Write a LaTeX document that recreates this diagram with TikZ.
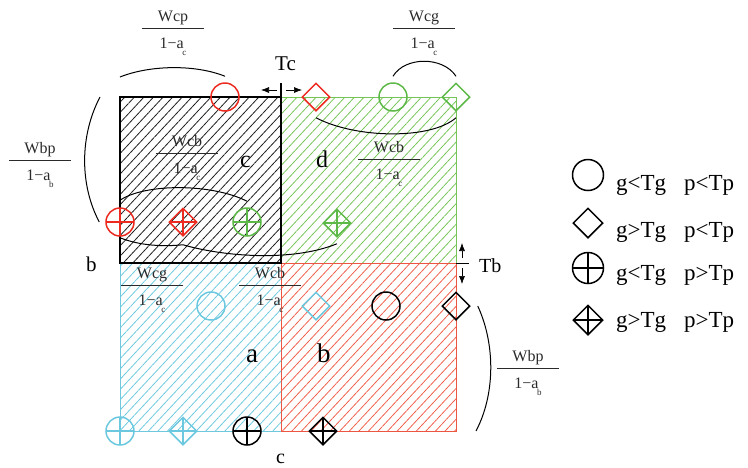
\documentclass[tikz,border=0pt]{standalone}
\usepackage{fontspec}
\setmainfont{Liberation Serif}
\usetikzlibrary{positioning,calc,arrows.meta,shapes.geometric,patterns.meta}
\definecolor{hatchk}{HTML}{1E1E1E}
\definecolor{hatchg}{HTML}{78C65A}
\definecolor{edgeg}{HTML}{74C458}
\definecolor{hatchc}{HTML}{6ECADF}
\definecolor{edgec}{HTML}{70C8DE}
\definecolor{hatchr}{HTML}{F0604C}
\definecolor{edger}{HTML}{EE5644}
\definecolor{symr}{HTML}{EC2A20}
\definecolor{symg}{HTML}{5DB947}
\definecolor{symc}{HTML}{6CC8DF}
\definecolor{fracc}{HTML}{2A2A2A}
\newcommand{\fs}[1]{\fontsize{#1}{#1}\selectfont}
% fraction label: name, x, bar y, numerator, subscript
\newcommand{\wfrac}[5]{%
  \node[fracnum] (#1n) at (#2,#3-7) {#4};
  \draw[fracbar] (#2-31,#3) -- (#2+31,#3);
  \node[fracden] (#1d) at (#2,#3+20) {1−a\raisebox{-7pt}{\kern-1.5pt\fs{9}#5}};}
\tikzset{
  quad/.style 2 args={draw=#1, line width=0.9pt,
    pattern={Lines[angle=47,distance=7pt,line width=0.8pt]}, pattern color=#2},
  fracnum/.style={font=\fs{16}, text=fracc, inner sep=0pt, anchor=base},
  fracden/.style={font=\fs{16}, text=fracc, inner sep=0pt, anchor=base},
  fracbar/.style={draw=fracc, line width=0.8pt},
  sym/.style={draw=#1, line width=1.5pt, inner sep=0pt},
  ocirc/.style={sym=#1, circle, minimum size=28pt},
  odia/.style={sym=#1, diamond, minimum size=28pt},
  xmark/.style={path picture={\draw[#1, line width=1.5pt]
    (path picture bounding box.north) -- (path picture bounding box.south)
    (path picture bounding box.west) -- (path picture bounding box.east);}},
  xcirc/.style={ocirc=#1, xmark=#1},
  xdia/.style={odia=#1, xmark=#1},
  arc/.style={draw=black, line width=1pt},
  tick/.style={-{Latex[length=8pt,width=6pt]}, line width=0.6pt},
  qlabel/.style={font=\fs{#1}, inner sep=0pt, anchor=base west},
}
\begin{document}
\begin{tikzpicture}[x=1pt, y=-1pt]
  \useasboundingbox (0,0) rectangle (748,467);
  % quadrants
  \draw[quad={edgec}{hatchc}] (120,263) rectangle (281,431);
  \draw[quad={edgeg}{hatchg}] (281,97) rectangle (456,263);
  \draw[quad={edger}{hatchr}] (281,263) rectangle (456,431);
  \draw[quad={black}{hatchk}, line width=1.1pt] (120,97) rectangle (281,263);

  % Tc and Tb marks
  \coordinate (tctop) at (281,83);
  \coordinate (tcbot) at (281,97);
  \draw[line width=1.1pt] (tctop) -- (tcbot);
  \coordinate (tcl) at (277,90);
  \coordinate (tclt) at (261,90);
  \coordinate (tcr) at (286,90);
  \coordinate (tcrt) at (302,90);
  \draw[tick] (tcl) -- (tclt);
  \draw[tick] (tcr) -- (tcrt);
  \node[qlabel=21] (tc) at (275,70) {Tc};
  \coordinate (tbl) at (456,263);
  \coordinate (tbr) at (469,263);
  \draw[line width=0.8pt] (tbl) -- (tbr);
  \coordinate (tbu) at (462,258);
  \coordinate (tbut) at (462,243);
  \coordinate (tbd) at (462,268);
  \coordinate (tbdt) at (462,284);
  \draw[tick] (tbu) -- (tbut);
  \draw[tick] (tbd) -- (tbdt);
  \node[qlabel=20] (tb) at (479,272) {Tb};

  % symbols on the grid
  \node[ocirc=symr] (rc) at (225,97) {};
  \node[odia=symr] (rd) at (316,97) {};
  \node[ocirc=symg] (gc) at (393,97) {};
  \node[odia=symg] (gd) at (456,97) {};
  \node[xcirc=symr] (rxc) at (120,222) {};
  \node[xdia=symr] (rxd) at (183,222) {};
  \node[xcirc=symg] (gxc) at (247,222) {};
  \node[xdia=symg] (gxd) at (337,223) {};
  \node[ocirc=symc] (cc) at (211,306) {};
  \node[odia=symc] (cd) at (316,306) {};
  \node[ocirc=black] (kc) at (386,306) {};
  \node[odia=black] (kd) at (456,306) {};
  \node[xcirc=symc] (cxc) at (120,431) {};
  \node[xdia=symc] (cxd) at (183,431) {};
  \node[xcirc=black] (kxc) at (247,431) {};
  \node[xdia=black] (kxd) at (323,431) {};

  % spans
  \coordinate (cornl) at (120,77);
  \coordinate (cornt) at (100,97);
  \coordinate (cornb) at (476,431);
  \draw[arc] (cornl) .. controls +(30,-12) and +(-30,-12) .. ([yshift=6pt]rc.north);
  \draw[arc] (cornt) .. controls +(-20,38) and +(-20,-38) .. ([xshift=-6pt]rxc.west);
  \draw[arc] ([yshift=6pt]gc.north) .. controls +(12,-20) and +(-13,-20) .. ([yshift=6pt]gd.north);
  \draw[arc] ([yshift=-6pt]rd.south) .. controls +(40,21) and +(-25,22) .. ([yshift=-6pt]gd.south);
  \draw[arc] ([yshift=7pt]rxc.north) .. controls +(25,-17) and +(-35,-18) .. ([yshift=6pt]gxc.north);
  \draw[arc] ([yshift=-1pt]rxc.south) .. controls +(20,8) and +(-20,2) .. ([yshift=-8pt]rxd.south)
             .. controls +(37,11) and +(-47,19) .. ([yshift=-6pt]gxd.south);
  \draw[arc] ([xshift=7pt]kd.east) .. controls +(18,39) and +(19,-36) .. (cornb);

  % fractions
  \wfrac{wcp}{173}{28}{Wcp}{c}
  \wfrac{wcgt}{424}{28}{Wcg}{c}
  \wfrac{wbpl}{40}{160}{Wbp}{b}
  \wfrac{wcbk}{187}{153}{Wcb}{c}
  \wfrac{wcbg}{389}{159}{Wcb}{c}
  \wfrac{wcgc}{152}{285}{Wcg}{c}
  \wfrac{wcbc}{270}{285}{Wcb}{c}
  \wfrac{wbpr}{528}{368}{Wbp}{b}

  % quadrant and side labels
  \node[qlabel=24] (labc) at (240,167) {c};
  \node[qlabel=24] (labd) at (316,167) {d};
  \node[qlabel=27] (laba) at (246,362) {a};
  \node[qlabel=27] (labb) at (317,362) {b};
  \node[qlabel=21] (sideb) at (86,271) {b};
  \node[qlabel=20] (sidec) at (276,463) {c};

  % legend
  \node[sym=black, circle, minimum size=31pt] (leg1) at (588,175) {};
  \node[sym=black, diamond, minimum size=30pt] (leg2) at (588,223) {};
  \node[sym=black, circle, minimum size=31pt, xmark=black] (leg3) at (588,268) {};
  \node[sym=black, diamond, minimum size=30pt, xmark=black] (leg4) at (588,320) {};
  \node[qlabel=23] (leg1g) at (616,190) {g<Tg};
  \node[qlabel=23] (leg1p) at (684,190) {p<Tp};
  \node[qlabel=23] (leg2g) at (616,237) {g>Tg};
  \node[qlabel=23] (leg2p) at (684,237) {p<Tp};
  \node[qlabel=23] (leg3g) at (616,280) {g<Tg};
  \node[qlabel=23] (leg3p) at (684,280) {p>Tp};
  \node[qlabel=23] (leg4g) at (616,327) {g>Tg};
  \node[qlabel=23] (leg4p) at (684,327) {p>Tp};
\end{tikzpicture}
\end{document}
